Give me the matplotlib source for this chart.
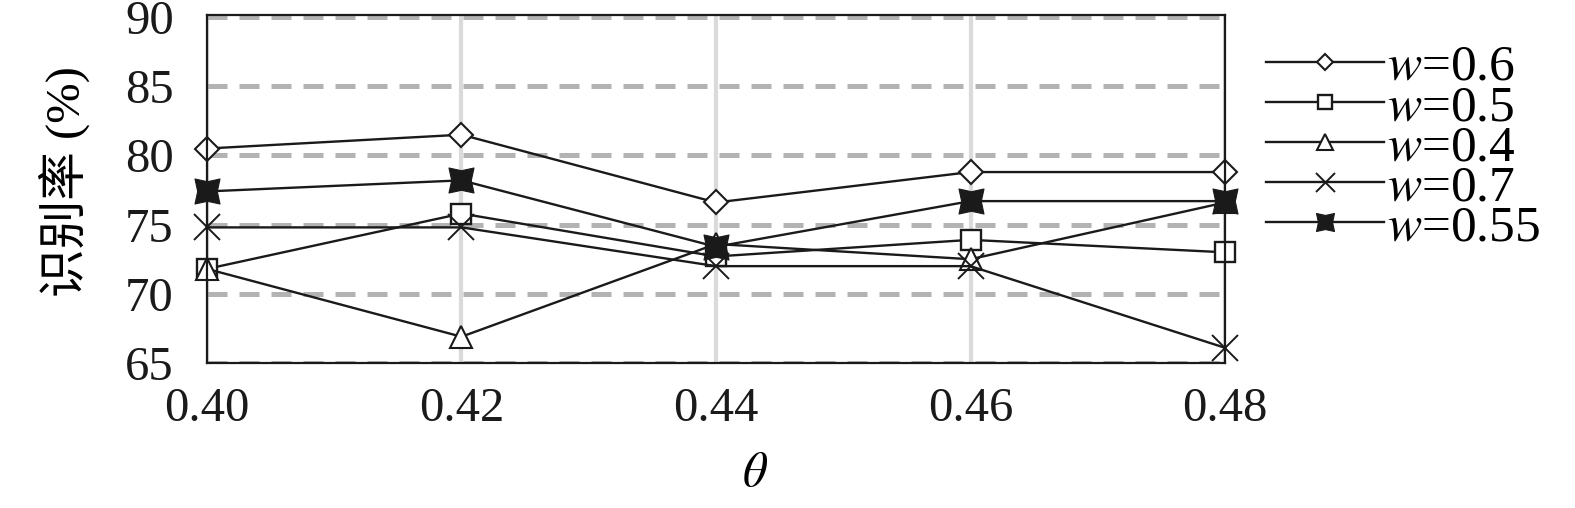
import numpy as np
import matplotlib
matplotlib.use("Agg")
import matplotlib.pyplot as plt
from matplotlib.path import Path

plt.rcParams['font.family'] = ['Liberation Serif', 'Noto Sans CJK SC', 'DejaVu Sans']
plt.rcParams['mathtext.fontset'] = 'stix'

# data
theta = [0.40, 0.42, 0.44, 0.46, 0.48]
w06 = [80.5, 81.5, 76.6, 78.8, 78.8]
w05 = [71.8, 75.8, 72.7, 73.9, 73.0]
w04 = [71.8, 66.9, 73.6, 72.5, 76.6]
w07 = [74.8, 74.8, 72.0, 72.0, 66.1]
w055 = [77.4, 78.2, 73.4, 76.7, 76.7]
labels = ['$w$=0.6', '$w$=0.5', '$w$=0.4', '$w$=0.7', '$w$=0.55']
yticks = [65, 70, 75, 80, 85, 90]

# filled square with small pointed corners
star = Path([(-0.6, -0.6), (0, -0.47), (0.6, -0.6), (0.47, 0), (0.6, 0.6),
             (0, 0.47), (-0.6, 0.6), (-0.47, 0), (-0.6, -0.6)],
            [Path.MOVETO] + [Path.LINETO] * 7 + [Path.CLOSEPOLY])

fig = plt.figure(figsize=(15.75, 5.08), dpi=100)
ax = fig.add_axes([207/1575, 1-363/508, (1225-207)/1575, (363-15)/508])

kw = dict(color='#1a1a1a', lw=1.7, clip_on=False, zorder=3)
ax.plot(theta, w06, marker='D', ms=12, mfc='white', mec='#1a1a1a', mew=1.5, label=labels[0], **kw)
ax.plot(theta, w05, marker='s', ms=14.5, mfc='white', mec='#1a1a1a', mew=1.7, label=labels[1], **kw)
ax.plot(theta, w04, marker='^', ms=16, mfc='white', mec='#1a1a1a', mew=1.5, label=labels[2], **kw)
ax.plot(theta, w07, marker='x', ms=19, mec='#1a1a1a', mew=1.4, label=labels[3], **kw)
ax.plot(theta, w055, marker=star, ms=18, mfc='#1a1a1a', mec='#1a1a1a', mew=0.8, label=labels[4], **kw)

ax.set_xlim(0.40, 0.48)
ax.set_ylim(65, 90.15)
ax.set_xticks(theta)
ax.set_xticklabels(['%.2f' % t for t in theta])
ax.set_yticks(yticks)
ax.tick_params(length=0, labelsize=35, colors='#1a1a1a')
ax.tick_params(axis='y', pad=24)
ax.tick_params(axis='x', pad=17)

ax.grid(axis='y', color='#b3b3b3', lw=3.6, ls=(0, (4, 2.4)), zorder=1)
ax.grid(axis='x', color='#dadada', lw=3, ls='-', zorder=1)
for s in ax.spines.values():
    s.set_linewidth(1.6)
    s.set_color('#1a1a1a')
    s.set_zorder(4)

ax.set_xlabel(r'$\theta$', fontsize=35)
ax.xaxis.set_label_coords(0.538, -0.255)
ax.set_ylabel('识别率 (%)', fontsize=35)
ax.yaxis.set_label_coords(-0.115, 0.52)

ax.legend(loc='upper left', bbox_to_anchor=(1266/1575, 1-44/508), bbox_transform=fig.transFigure,
          frameon=False, fontsize=37, handlelength=2.3, handletextpad=0.05,
          labelspacing=-0.135, borderpad=0, borderaxespad=0, markerscale=0.72)

fig.savefig('out.png', dpi=100)
